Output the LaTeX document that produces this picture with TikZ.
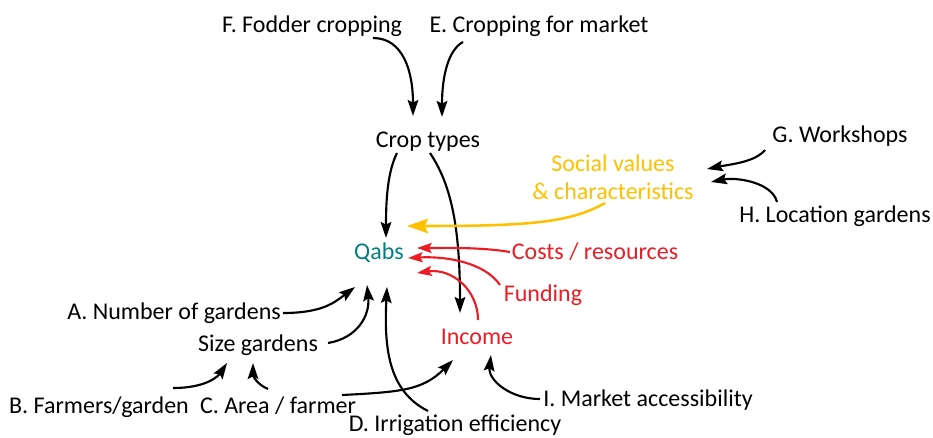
\documentclass[tikz,border=0pt]{standalone}
\usepackage{fontspec}
\setmainfont{Carlito}
\usetikzlibrary{arrows.meta}
\definecolor{cyel}{RGB}{255,192,0}
\definecolor{cred}{RGB}{237,28,36}
\definecolor{cteal}{RGB}{0,128,128}
\begin{document}
\begin{tikzpicture}[x=0.75pt,y=-0.75pt,
  lbl/.style={inner sep=0pt,anchor=base,font=\fontsize{18}{21}\selectfont},
  arr/.style={line width=1.6pt,-{Stealth[length=12pt,width=8pt,inset=2pt]}},
  yarr/.style={line width=1.9pt,cyel,-{Stealth[length=16pt,width=11pt,inset=3pt]}},
  rarr/.style={line width=1.6pt,cred,-{Stealth[length=11pt,width=7.5pt,inset=2pt]}}]
\useasboundingbox (0,0) rectangle (933,437);
\node[lbl] (f) at (312,32) {F. Fodder cropping};
\node[lbl] (e) at (539,32) {E. Cropping for market};
\node[lbl] (ct) at (428,147) {Crop types};
\node[lbl,anchor=center,align=center,text=cyel] (sv) at (613,177) {Social values\\\& characteristics};
\node[lbl,text=cteal] (q) at (379,259) {Qabs};
\node[lbl,text=cred] (cost) at (595,259) {Costs / resources};
\node[lbl,text=cred] (fund) at (543,301) {Funding};
\node[lbl,text=cred] (inc) at (477,344) {Income};
\node[lbl] (a) at (174,319) {A. Number of gardens};
\node[lbl] (sz) at (258,351) {Size gardens};
\node[lbl] (b) at (99,413) {B. Farmers/garden};
\node[lbl] (c) at (278,413) {C. Area / farmer};
\node[lbl] (d) at (455,431) {D. Irrigation efficiency};
\node[lbl] (i) at (648,406) {I. Market accessibility};
\node[lbl] (g) at (840,142) {G. Workshops};
\node[lbl] (h) at (835,222) {H. Location gardens};

\draw[arr] ([shift={(61,6)}]f.base) .. controls +(30,0) and +(0,-45) .. ([shift={(-15,-31)}]ct.base);
\draw[arr] ([shift={(-76,10)}]e.base) .. controls +(-15,8) and +(0,-40) .. ([shift={(14,-30)}]ct.base);
\draw[arr] ([shift={(-31,6)}]ct.base) .. controls +(-10,20) and +(0,-35) .. ([shift={(7,-21)}]q.base);
\draw[arr] ([shift={(2,6)}]ct.base) .. controls +(20,30) and +(0,-90) .. ([shift={(-17,-31)}]inc.base);
\draw[yarr] ([shift={(-8,26)}]sv.center) .. controls +(-35,20) and +(120,0) .. ([shift={(28,-33)}]q.base);
\draw[rarr] ([shift={(-85,-7)}]cost.base) .. controls +(-30,-5) and +(30,0) .. ([shift={(38,-11)}]q.base);
\draw[rarr] ([shift={(-43,-16)}]fund.base) .. controls +(-15,-22) and +(40,-2) .. ([shift={(29,-1)}]q.base);
\draw[rarr] ([shift={(1,-24)}]inc.base) .. controls +(0,-30) and +(35,-5) .. ([shift={(38,14)}]q.base);
\draw[arr] ([shift={(109,-6)}]a.base) .. controls +(40,0) and +(-20,15) .. ([shift={(-24,28)}]q.base);
\draw[arr] ([shift={(70,-8)}]sz.base) .. controls +(30,-5) and +(3,30) .. ([shift={(-12,26)}]q.base);
\draw[arr] ([shift={(-27,-20)}]d.base) .. controls +(-40,-20) and +(-3,60) .. ([shift={(8,28)}]q.base);
\draw[arr] ([shift={(74,-25)}]b.base) .. controls +(35,0) and +(-8,12) .. ([shift={(-31,12)}]sz.base);
\draw[arr] ([shift={(-10,-24)}]c.base) .. controls +(-12,-5) and +(0,12) .. ([shift={(-5,12)}]sz.base);
\draw[arr] ([shift={(64,-18)}]c.base) .. controls +(60,-3) and +(-30,30) .. ([shift={(-24,16)}]inc.base);
\draw[arr] ([shift={(-108,-7)}]i.base) .. controls +(-30,0) and +(-3,25) .. ([shift={(14,11)}]inc.base);
\draw[arr] ([shift={(-75,8)}]g.base) .. controls +(-10,12) and +(25,-5) .. ([shift={(94,-8)}]sv.center);
\draw[arr] ([shift={(-58,-20)}]h.base) .. controls +(-5,-20) and +(25,-5) .. ([shift={(98,5)}]sv.center);
\end{tikzpicture}
\end{document}
